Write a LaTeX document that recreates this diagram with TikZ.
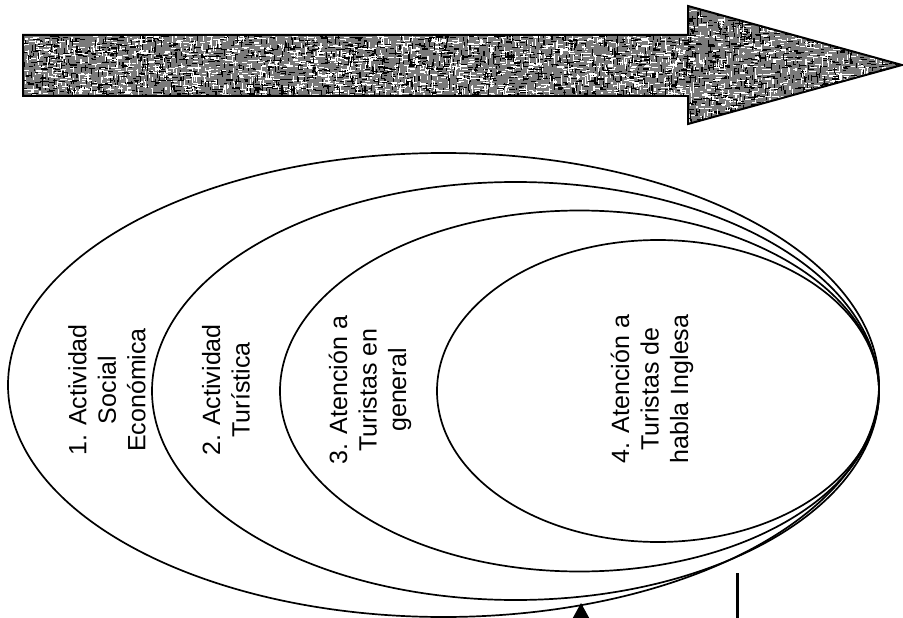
\documentclass[tikz,border=0pt]{standalone}
\usepackage{fontspec}
\setmainfont{Liberation Sans}
\usetikzlibrary{arrows.meta}
\begin{document}
\begin{tikzpicture}[x=1pt,y=-1pt,
  ring/.style={draw=black, line width=1.7pt},
  label/.style={rotate=90, align=center, inner sep=0pt,
    font=\fontsize{25}{29.5}\selectfont},
  grain/.style={line width=1.1pt, line cap=butt}]
\useasboundingbox (0,0) rectangle (903,618);
\clip (0,0) rectangle (903,618);

% big grained arrow at the top
\def\arrowpath{(23,35) -- (688,35) -- (688,6) -- (902,65) -- (688,124) -- (688,96) -- (23,96) -- cycle}
\begin{scope}
  \clip \arrowpath;
  \fill[black!52] (0,0) rectangle (903,130);
  \pgfmathsetseed{11}
  \foreach \i in {1,...,3800}{
    \pgfmathsetmacro{\px}{23+665*rnd}
    \pgfmathsetmacro{\py}{35+61*rnd}
    \pgfmathsetmacro{\pl}{2+5*rnd}
    \pgfmathsetmacro{\ph}{rnd}
    \pgfmathsetmacro{\pc}{rnd<0.5 ? "white" : "black"}
    \ifdim\ph pt<0.6pt
      \draw[grain, \pc] (\px,\py) -- ++(\pl,0);
    \else
      \draw[grain, \pc] (\px,\py) -- ++(0,\pl);
    \fi
  }
  \foreach \i in {1,...,2000}{
    \pgfmathsetmacro{\px}{686+216*rnd}
    \pgfmathsetmacro{\py}{6+118*rnd}
    \pgfmathsetmacro{\pl}{2+5*rnd}
    \pgfmathsetmacro{\ph}{rnd}
    \pgfmathsetmacro{\pc}{rnd<0.5 ? "white" : "black"}
    \ifdim\ph pt<0.6pt
      \draw[grain, \pc] (\px,\py) -- ++(\pl,0);
    \else
      \draw[grain, \pc] (\px,\py) -- ++(0,\pl);
    \fi
  }
\end{scope}
\draw[line width=2pt, line join=miter] \arrowpath;

% nested ellipses, all touching at the right
\draw[ring] (443.5,385) ellipse [x radius=435.5, y radius=232];
\draw[ring] (515.5,391) ellipse [x radius=363.5, y radius=209];
\draw[ring] (579.5,391) ellipse [x radius=299.5, y radius=180.5];
\draw[ring] (658,391) ellipse [x radius=221, y radius=151];

% level labels
\node[label] (t1) at (107,390) {1. Actividad\\Social\\Económica};
\node[label] (t2) at (226,390) {2. Actividad\\Turística};
\node[label] (t3) at (370,390) {3. Atención a\\Turistas en\\general};
\node[label] (t4) at (652,389) {4. Atención a\\Turistas de\\habla Inglesa};

% marks at the bottom edge
\coordinate (ptip) at (581,603);
\coordinate (ptail) at (581,660);
\draw[line width=1.5pt, -{Triangle[width=16pt,length=15pt]}] (ptail) -- (ptip);
\coordinate (btop) at (737,573);
\coordinate (bbot) at (737,625);
\draw[line width=3pt] (btop) -- (bbot);
\end{tikzpicture}
\end{document}
